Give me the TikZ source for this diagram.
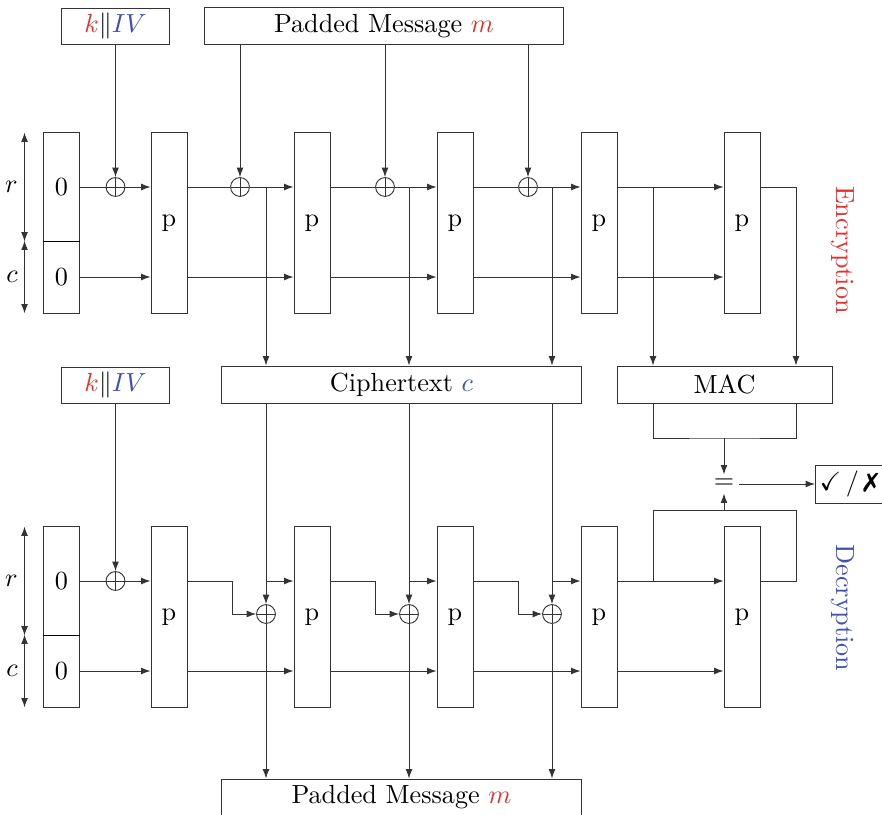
\documentclass[tikz,border=0pt]{standalone}
\usepackage{amssymb}
\usepackage{pifont}
\usetikzlibrary{arrows.meta}
\definecolor{keyred}{HTML}{E03232}
\definecolor{ivblue}{HTML}{4050B8}
\tikzset{
  box/.style={
    draw=black!80,
    line width=0.35pt,
    inner sep=0pt,
    align=center
  },
  perm/.style={
    box,
    minimum width=13.75pt,
    minimum height=68.8pt
  },
  ratebox/.style={
    box,
    minimum width=14.1pt,
    minimum height=41.3pt
  },
  capbox/.style={
    box,
    minimum width=14.1pt,
    minimum height=27.5pt
  },
  keybox/.style={
    box,
    minimum width=41.6pt,
    minimum height=13.75pt
  },
  msgbox/.style={
    box,
    minimum width=137.3pt,
    minimum height=14.1pt
  },
  macbox/.style={
    box,
    minimum width=82.1pt,
    minimum height=14.1pt
  },
  verdict/.style={
    box,
    minimum width=25.6pt,
    minimum height=14.5pt
  },
  xor/.style={
    circle,
    draw=black!80,
    line width=0.35pt,
    inner sep=0pt,
    minimum size=7.2pt,
    path picture={
      \draw[black!80, line width=0.35pt] (path picture bounding box.north) -- (path picture bounding box.south)
        (path picture bounding box.west) -- (path picture bounding box.east);
    }
  },
  flow/.style={
    -{Latex[length=3.6pt,width=2.6pt]},
    draw=black!80,
    line width=0.35pt
  },
  line/.style={
    draw=black!80,
    line width=0.35pt
  },
  split/.style={
    draw=black,
    line width=0.7pt
  },
  dim/.style={
    {Latex[length=3.6pt,width=2.6pt]}-{Latex[length=3.6pt,width=2.6pt]},
    draw=black!80,
    line width=0.35pt
  },
  dimlabel/.style={
    left=0pt,
    inner sep=2.4pt
  }
}

\begin{document}
\begin{tikzpicture}[x=0.382pt, y=-0.382pt]
  \useasboundingbox (0,0) rectangle (882,815);

  % encryption
  \node[keybox] (kiv1) at (115.5,26) {$\textcolor{keyred}{k}\|\textcolor{ivblue}{IV}$};
  \node[msgbox] (msg1) at (384,26) {Padded Message \textcolor{keyred}{$m$}};

  \node[ratebox] (s1r) at (61.5,187) {0};
  \node[capbox] (s1c) at (61.5,277) {0};
  \draw[split] (s1r.south west) -- (s1r.south east);

  \node[perm] (p1) at (169,223) {p};
  \node[perm] (p2) at (312,223) {p};
  \node[perm] (p3) at (455,223) {p};
  \node[perm] (p4) at (599,223) {p};
  \node[perm] (p5) at (742,223) {p};

  \node[xor] (ex1) at (115.5,187) {};
  \node[xor] (ex2) at (240,187) {};
  \node[xor] (ex3) at (385,187) {};
  \node[xor] (ex4) at (528,187) {};

  \coordinate (ct1) at (266,187);
  \coordinate (ct2) at (409,187);
  \coordinate (ct3) at (552,187);
  \coordinate (mt1) at (653,187);
  \coordinate (mt2) at (796,187);

  \node[msgbox] (cipher) at (401.5,384.5) {Ciphertext \textcolor{ivblue}{$c$}};
  \node[macbox] (mac) at (724.5,384.5) {MAC};

  \node[rotate=-90, text=keyred] (enc) at (843,250) {Encryption};

  \draw[dim] ([xshift=-6.9pt]s1r.north west) -- node[dimlabel] {$r$} ([xshift=-6.9pt]s1r.south west);
  \draw[dim] ([xshift=-6.9pt]s1c.north west) -- node[dimlabel] {$c$} ([xshift=-6.9pt]s1c.south west);

  \draw[flow] (kiv1) -- (ex1);
  \draw[flow] (ex2 |- msg1.south) -- (ex2);
  \draw[flow] (ex3 |- msg1.south) -- (ex3);
  \draw[flow] (ex4 |- msg1.south) -- (ex4);

  \draw[line] (s1r.east) -- (ex1);
  \draw[flow] (ex1) -- (p1.west |- s1r);
  \draw[line] (p1.east |- s1r) -- (ex2);
  \draw[flow] (ex2) -- (p2.west |- s1r);
  \draw[line] (p2.east |- s1r) -- (ex3);
  \draw[flow] (ex3) -- (p3.west |- s1r);
  \draw[line] (p3.east |- s1r) -- (ex4);
  \draw[flow] (ex4) -- (p4.west |- s1r);
  \draw[flow] (p4.east |- s1r) -- (p5.west |- s1r);

  \draw[flow] (s1c.east) -- (p1.west |- s1c);
  \draw[flow] (p1.east |- s1c) -- (p2.west |- s1c);
  \draw[flow] (p2.east |- s1c) -- (p3.west |- s1c);
  \draw[flow] (p3.east |- s1c) -- (p4.west |- s1c);
  \draw[flow] (p4.east |- s1c) -- (p5.west |- s1c);

  \draw[flow] (ct1) -- (ct1 |- cipher.north);
  \draw[flow] (ct2) -- (ct2 |- cipher.north);
  \draw[flow] (ct3) -- (ct3 |- cipher.north);
  \draw[flow] (mt1) -- (mt1 |- mac.north);
  \draw[flow] (p5.east |- s1r) -| (mt2 |- mac.north);

  % tag check
  \node[inner sep=1.6pt] (eq) at (724,484) {$=$};
  \node[verdict] (check) at (849,484) {$\checkmark$\,/\,\ding{55}};
  \coordinate (macjoin) at (724,438);
  \coordinate (tagjoin) at (724,510);

  \draw[line] (mt1 |- mac.south) |- (macjoin) -| (mt2 |- mac.south);
  \draw[flow] (macjoin) -- (eq);
  \draw[flow] (tagjoin) -- (eq);
  \draw[flow] (eq) -- (check);

  % decryption
  \node[keybox] (kiv2) at (115.5,385) {$\textcolor{keyred}{k}\|\textcolor{ivblue}{IV}$};

  \node[ratebox] (s2r) at (61.5,581) {0};
  \node[capbox] (s2c) at (61.5,671) {0};
  \draw[split] (s2r.south west) -- (s2r.south east);

  \node[perm] (q1) at (169,617) {p};
  \node[perm] (q2) at (312,617) {p};
  \node[perm] (q3) at (455,617) {p};
  \node[perm] (q4) at (599,617) {p};
  \node[perm] (q5) at (742,617) {p};

  \node[xor] (dx0) at (115.5,581) {};
  \node[xor] (dx1) at (266,614) {};
  \node[xor] (dx2) at (409,614) {};
  \node[xor] (dx3) at (552,614) {};

  \node[msgbox] (msg2) at (401.5,797.5) {Padded Message \textcolor{keyred}{$m$}};

  \node[rotate=-90, text=ivblue] (dec) at (843,608) {Decryption};

  \draw[dim] ([xshift=-6.9pt]s2r.north west) -- node[dimlabel] {$r$} ([xshift=-6.9pt]s2r.south west);
  \draw[dim] ([xshift=-6.9pt]s2c.north west) -- node[dimlabel] {$c$} ([xshift=-6.9pt]s2c.south west);

  \draw[flow] (kiv2) -- (dx0);
  \draw[line] (s2r.east) -- (dx0);
  \draw[flow] (dx0) -- (q1.west |- s2r);

  \draw[flow] (q1.east |- s2r) -- ++(45,0) |- (dx1.west);
  \draw[flow] (q2.east |- s2r) -- ++(45,0) |- (dx2.west);
  \draw[flow] (q3.east |- s2r) -- ++(45,0) |- (dx3.west);

  \draw[flow] (dx1 |- cipher.south) -- (dx1);
  \draw[flow] (dx2 |- cipher.south) -- (dx2);
  \draw[flow] (dx3 |- cipher.south) -- (dx3);
  \draw[flow] (dx1 |- s2r) -- (q2.west |- s2r);
  \draw[flow] (dx2 |- s2r) -- (q3.west |- s2r);
  \draw[flow] (dx3 |- s2r) -- (q4.west |- s2r);
  \draw[flow] (dx1) -- (dx1 |- msg2.north);
  \draw[flow] (dx2) -- (dx2 |- msg2.north);
  \draw[flow] (dx3) -- (dx3 |- msg2.north);

  \draw[flow] (q4.east |- s2r) -- (q5.west |- s2r);
  \draw[line] (q5.east |- s2r) -| (mt2 |- tagjoin) -| (mt1 |- s2r);

  \draw[flow] (s2c.east) -- (q1.west |- s2c);
  \draw[flow] (q1.east |- s2c) -- (q2.west |- s2c);
  \draw[flow] (q2.east |- s2c) -- (q3.west |- s2c);
  \draw[flow] (q3.east |- s2c) -- (q4.west |- s2c);
  \draw[flow] (q4.east |- s2c) -- (q5.west |- s2c);
\end{tikzpicture}
\end{document}
